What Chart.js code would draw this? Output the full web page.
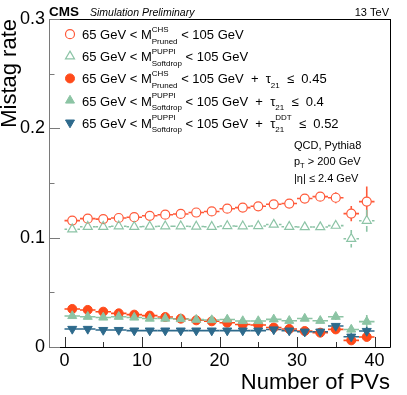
<!DOCTYPE html>
<html><head><meta charset="utf-8">
<script src="https://cdn.jsdelivr.net/npm/chart.js@4/dist/chart.umd.min.js"></script>
<style>html,body{margin:0;padding:0;background:#fff}#wrap{position:relative;width:407px;height:395px}</style>
</head><body><div id="wrap"><canvas id="c" width="407" height="395"></canvas></div>
<script>
// ---------------- data ----------------
const nPV = [1,3,5,7,9,11,13,15,17,19,21,23,25,27,29,31,33,35,37,39];
const binHalfWidth = 1;

const chsPruned    = [0.1156,0.1174,0.1170,0.1180,0.1187,0.1200,0.1210,0.1217,0.1230,0.1240,0.1265,0.1275,0.1287,0.1305,0.1312,0.1358,0.1375,0.1365,0.1220,0.1330];
const chsPrunedErr = [0.0015,0.0015,0.0015,0.0015,0.0015,0.0015,0.0015,0.0015,0.0015,0.0015,0.0015,0.0015,0.0015,0.0018,0.0020,0.0022,0.0025,0.0050,0.0070,0.0137];

const puppiSD      = [0.1077,0.1100,0.1100,0.1105,0.1100,0.1102,0.1105,0.1105,0.1102,0.1100,0.1107,0.1105,0.1107,0.1120,0.1100,0.1097,0.1097,0.1110,0.0990,0.1155];
const puppiSDErr   = [0.0015,0.0015,0.0015,0.0015,0.0015,0.0015,0.0015,0.0015,0.0015,0.0015,0.0015,0.0015,0.0015,0.0018,0.0020,0.0022,0.0025,0.0040,0.0080,0.0100];

const chsTau       = [0.0348,0.0339,0.0323,0.0308,0.0296,0.0287,0.0274,0.0259,0.0244,0.0235,0.0222,0.0206,0.0201,0.0178,0.0165,0.0146,0.0131,0.0161,0.0061,0.0092];
const chsTauErr    = [0.0010,0.0010,0.0010,0.0010,0.0010,0.0010,0.0010,0.0010,0.0010,0.0010,0.0010,0.0010,0.0010,0.0010,0.0010,0.0012,0.0014,0.0020,0.0020,0.0025];

const puppiTau     = [0.0284,0.0277,0.0270,0.0277,0.0270,0.0260,0.0260,0.0256,0.0250,0.0247,0.0252,0.0238,0.0238,0.0253,0.0240,0.0260,0.0240,0.0277,0.0160,0.0232];
const puppiTauErr  = [0.0010,0.0010,0.0010,0.0010,0.0010,0.0010,0.0010,0.0010,0.0010,0.0010,0.0010,0.0010,0.0010,0.0010,0.0012,0.0014,0.0016,0.0030,0.0040,0.0060];

const puppiDDT     = [0.0165,0.0165,0.0155,0.0155,0.0150,0.0150,0.0150,0.0150,0.0150,0.0150,0.0150,0.0150,0.0150,0.0160,0.0150,0.0140,0.0140,0.0192,0.0094,0.0146];
const puppiDDTErr  = [0.0008,0.0008,0.0008,0.0008,0.0008,0.0008,0.0008,0.0008,0.0008,0.0008,0.0008,0.0008,0.0008,0.0008,0.0010,0.0012,0.0014,0.0020,0.0030,0.0040];

const xTicks = [0,10,20,30,40];
const xMinorTicks = [5,15,25,35];
const yTicks = [0,0.1,0.2,0.3];
const yMinorTicks = [0.05,0.15,0.25];

const legendLabels = [
  [{t:'65 GeV < M'},{sup:'CHS',sub:'Pruned'},{t:' < 105 GeV'}],
  [{t:'65 GeV < M'},{sup:'PUPPI',sub:'Softdrop'},{t:' < 105 GeV'}],
  [{t:'65 GeV < M'},{sup:'CHS',sub:'Pruned'},{t:' < 105 GeV  +  τ'},{sub:'21'},{t:'  ≤  0.45'}],
  [{t:'65 GeV < M'},{sup:'PUPPI',sub:'Softdrop'},{t:' < 105 GeV  +  τ'},{sub:'21'},{t:'  ≤  0.4'}],
  [{t:'65 GeV < M'},{sup:'PUPPI',sub:'Softdrop'},{t:' < 105 GeV  +  τ'},{sup:'DDT',sub:'21'},{t:'  ≤  0.52'}]
];
const infoLines = [
  [{t:'QCD, Pythia8'}],
  [{t:'p'},{sub:'T'},{t:' > 200 GeV'}],
  [{t:'|η| ≤ 2.4 GeV'}]
];
const cmsText = 'CMS';
const extraText = 'Simulation Preliminary';
const energyText = '13 TeV';
const xTitle = 'Number of PVs';
const yTitle = 'Mistag rate';

// ---------------- styles ----------------
const F = '"Liberation Sans", Arial, Helvetica, sans-serif';
const series = [
  {y: chsPruned, e: chsPrunedErr, style:'circle',   rot:0,   r:4.5, color:'#ff5a3a', open:true},
  {y: puppiSD,   e: puppiSDErr,   style:'triangle', rot:0,   r:5.2, color:'#8cc4a6', open:true},
  {y: chsTau,    e: chsTauErr,    style:'circle',   rot:0,   r:4.5, color:'#ff4a1a', open:false},
  {y: puppiTau,  e: puppiTauErr,  style:'triangle', rot:0,   r:5.2, color:'#8cc4a4', open:false},
  {y: puppiDDT,  e: puppiDDTErr,  style:'triangle', rot:180, r:5.2, color:'#2e6a8c', open:false}
];

const datasets = series.map((s, i) => ({
  label: 'series' + i,
  data: nPV.map((x, k) => ({x: x, y: s.y[k]})),
  pointStyle: s.style,
  rotation: s.rot,
  pointRadius: s.r,
  pointHoverRadius: s.r,
  backgroundColor: s.open ? 'rgba(255,255,255,0)' : s.color,
  borderColor: s.color,
  borderWidth: s.open ? 1.2 : 1,
  showLine: false,
  order: 5 - i
}));

function marker(ctx, style, rot, r, x, y, color, open) {
  ctx.save();
  ctx.beginPath();
  if (style === 'circle') {
    ctx.arc(x, y, r, 0, Math.PI * 2);
  } else {
    let rad = rot * Math.PI / 180;
    ctx.moveTo(x + Math.sin(rad) * r, y - Math.cos(rad) * r);
    rad += 2 * Math.PI / 3;
    ctx.lineTo(x + Math.sin(rad) * r, y - Math.cos(rad) * r);
    rad += 2 * Math.PI / 3;
    ctx.lineTo(x + Math.sin(rad) * r, y - Math.cos(rad) * r);
    ctx.closePath();
  }
  if (!open) { ctx.fillStyle = color; ctx.fill(); }
  ctx.strokeStyle = color; ctx.lineWidth = open ? 1.2 : 1; ctx.stroke();
  ctx.restore();
}

function richText(ctx, segs, x, y, size, small, supDy, subDy) {
  for (const s of segs) {
    if (s.t !== undefined) {
      ctx.font = size + 'px ' + F;
      ctx.fillText(s.t, x, y);
      x += ctx.measureText(s.t).width;
    } else {
      ctx.font = small + 'px ' + F;
      let w = 0;
      if (s.sup) { ctx.fillText(s.sup, x, y + supDy); w = Math.max(w, ctx.measureText(s.sup).width); }
      if (s.sub) { ctx.fillText(s.sub, x, y + subDy); w = Math.max(w, ctx.measureText(s.sub).width); }
      x += w;
    }
  }
  return x;
}

const errorBars = {
  id: 'errorBars',
  beforeDatasetsDraw(chart) {
    const ctx = chart.ctx, xs = chart.scales.x, ys = chart.scales.y;
    ctx.save();
    series.forEach(s => {
      ctx.strokeStyle = s.color;
      ctx.lineWidth = 1.6;
      const gap = s.open ? s.r : 0;
      nPV.forEach((x, k) => {
        const px = xs.getPixelForValue(x), py = ys.getPixelForValue(s.y[k]);
        const x0 = xs.getPixelForValue(x - binHalfWidth), x1 = xs.getPixelForValue(x + binHalfWidth);
        const y0 = ys.getPixelForValue(s.y[k] + s.e[k]), y1 = ys.getPixelForValue(s.y[k] - s.e[k]);
        ctx.beginPath();
        if (px - gap > x0) { ctx.moveTo(x0, py); ctx.lineTo(px - gap, py); }
        if (x1 > px + gap) { ctx.moveTo(px + gap, py); ctx.lineTo(x1, py); }
        if (py - gap > y0) { ctx.moveTo(px, y0); ctx.lineTo(px, py - gap); }
        if (y1 > py + gap) { ctx.moveTo(px, py + gap); ctx.lineTo(px, y1); }
        ctx.stroke();
      });
    });
    ctx.restore();
  }
};

const decorations = {
  id: 'decorations',
  afterDatasetsDraw(chart) {
    const ctx = chart.ctx, xs = chart.scales.x, ys = chart.scales.y;
    const {left, right, top, bottom} = chart.chartArea;
    ctx.save();
    // frame
    ctx.lineWidth = 1;
    ctx.strokeStyle = '#000';
    ctx.beginPath();
    ctx.moveTo(left, top + 0.5); ctx.lineTo(right + 0.5, top + 0.5);
    ctx.moveTo(right + 0.5, top); ctx.lineTo(right + 0.5, bottom + 0.5);
    ctx.moveTo(left, bottom + 0.5); ctx.lineTo(right + 0.5, bottom + 0.5);
    ctx.stroke();
    ctx.strokeStyle = '#7a7a7a';
    ctx.beginPath();
    ctx.moveTo(left + 0.5, top); ctx.lineTo(left + 0.5, bottom + 1);
    yTicks.forEach(v => { const p = Math.round(ys.getPixelForValue(v)) + 0.5; ctx.moveTo(left, p); ctx.lineTo(left + 11, p); });
    yMinorTicks.forEach(v => { const p = Math.round(ys.getPixelForValue(v)) + 0.5; ctx.moveTo(left, p); ctx.lineTo(left + 5.5, p); });
    ctx.stroke();
    ctx.strokeStyle = '#333';
    ctx.beginPath();
    xTicks.forEach(v => { const p = Math.round(xs.getPixelForValue(v)) + 0.5; ctx.moveTo(p, bottom); ctx.lineTo(p, bottom - 10); });
    xMinorTicks.forEach(v => { const p = Math.round(xs.getPixelForValue(v)) + 0.5; ctx.moveTo(p, bottom); ctx.lineTo(p, bottom - 5); });
    ctx.stroke();

    // header texts
    ctx.fillStyle = '#000';
    ctx.textBaseline = 'alphabetic';
    ctx.textAlign = 'left';
    ctx.font = 'bold 13.5px ' + F;
    ctx.fillText(cmsText, 49, 16);
    ctx.font = 'italic 10.5px ' + F;
    ctx.fillText(extraText, 90, 16);
    ctx.font = '11px ' + F;
    ctx.textAlign = 'right';
    ctx.fillText(energyText, 389, 16);
    ctx.textAlign = 'left';

    // legend
    legendLabels.forEach((segs, i) => {
      const cy = 34.2 + i * 22.1;
      const s = series[i];
      marker(ctx, s.style, s.rot, s.r, 70, cy, s.color, s.open);
      ctx.fillStyle = '#000';
      richText(ctx, segs, 82, cy + 5, 13, 8, -7.6, 4.7);
    });

    // info block
    const infoBase = [149, 165, 181.5];
    infoLines.forEach((segs, i) => {
      richText(ctx, segs, 294, infoBase[i], 11, 7.5, -6, 3);
    });
    ctx.restore();
  }
};

new Chart(document.getElementById('c'), {
  type: 'scatter',
  data: { datasets: datasets },
  options: {
    responsive: false,
    animation: false,
    devicePixelRatio: 1,
    layout: { padding: { top: 19, right: 17, left: 0, bottom: 0 } },
    plugins: { legend: { display: false }, tooltip: { enabled: false } },
    scales: {
      x: {
        type: 'linear', min: -2, max: 42,
        afterFit(scale) { scale.height = 48; },
        afterBuildTicks(scale) { scale.ticks = xTicks.map(v => ({value: v})); },
        grid: { display: false, drawTicks: false },
        border: { display: false },
        ticks: { color: '#000', padding: 3, font: { family: F, size: 18 }, maxRotation: 0, autoSkip: false,
                 callback: v => String(v) },
        title: { display: true, text: xTitle, align: 'end', color: '#000',
                 font: { family: F, size: 22, lineHeight: 1 }, padding: { top: 0, bottom: 1 } }
      },
      y: {
        type: 'linear', min: 0, max: 0.3,
        afterFit(scale) { scale.width = 49; },
        afterBuildTicks(scale) { scale.ticks = yTicks.map(v => ({value: v})); },
        grid: { display: false, drawTicks: false },
        border: { display: false },
        ticks: { color: '#000', padding: 4, font: { family: F, size: 18 }, autoSkip: false,
                 callback: v => (v === 0 ? '0' : v.toFixed(1)) },
        title: { display: true, text: yTitle, align: 'end', color: '#000',
                 font: { family: F, size: 22, lineHeight: 0.9 }, padding: { top: 0, bottom: 0 } }
      }
    }
  },
  plugins: [errorBars, decorations]
});
</script>
</body></html>
